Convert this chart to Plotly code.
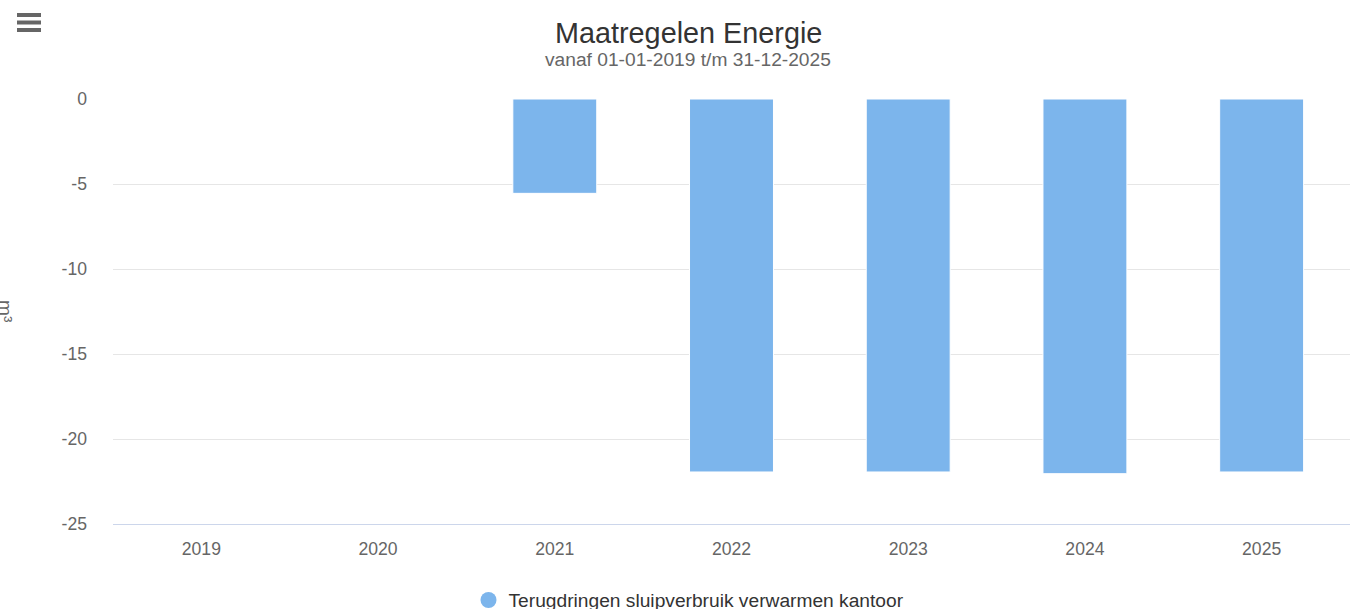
import plotly.graph_objects as go

years = ["2019", "2020", "2021", "2022", "2023", "2024", "2025"]
values = [0, 0, -5.55, -21.94, -21.94, -22.04, -21.94]
series_name = "Terugdringen sluipverbruik verwarmen kantoor"
y_ticks = [0, -5, -10, -15, -20, -25]
y_ticktext = ["0", "-5", "-10", "-15", "-20", "-25"]
title_text = "Maatregelen Energie"
subtitle_text = "vanaf 01-01-2019 t/m 31-12-2025"
y_title = "m³"

color = "#7cb5ec"
font = "Liberation Sans, Arial, sans-serif"

W, H = 1355, 609
L, R, T, B = 113, 5, 99, 85
PW, PH = W - L - R, H - T - B


def px_x(px):
    return (px - L) / PW


def px_y(py):
    return (H - B - py) / PH


fig = go.Figure()
fig.add_trace(go.Bar(
    x=years, y=values, name=series_name,
    marker=dict(color=color, line=dict(color="#ffffff", width=1)),
    showlegend=False,
))
fig.add_trace(go.Scatter(
    x=[None], y=[None], mode="markers", name=series_name,
    marker=dict(color=color, size=18, symbol="circle"),
))

fig.update_layout(
    width=W, height=H,
    margin=dict(l=L, r=R, t=T, b=B, autoexpand=False),
    plot_bgcolor="#ffffff", paper_bgcolor="#ffffff",
    bargap=0.525,
    font=dict(family=font, color="#666666", size=17.6),
    showlegend=True,
    legend=dict(orientation="h", x=689 / W, xanchor="center", xref="container",
                y=px_y(600), yref="paper", yanchor="middle",
                font=dict(size=19.2, color="#333333"),
                itemsizing="trace"),
    xaxis=dict(type="category", showgrid=False, showline=True,
               linecolor="#ccd6eb", linewidth=1, ticks="", automargin=False,
               ticklabelstandoff=9,
               tickfont=dict(size=17.6, color="#666666"), zeroline=False),
    yaxis=dict(range=[-25, 0], tickvals=y_ticks, ticktext=y_ticktext,
               showgrid=True, automargin=False,
               gridcolor="#e6e6e6", zeroline=False, showline=False,
               ticks="", ticklabelstandoff=25,
               tickfont=dict(size=17.6, color="#666666")),
    annotations=[
        dict(text=title_text, xref="paper", yref="paper", x=px_x(688), y=px_y(33),
             xanchor="center", yanchor="middle", showarrow=False,
             font=dict(size=28.8, color="#333333", family=font)),
        dict(text=subtitle_text, xref="paper", yref="paper", x=px_x(688), y=px_y(60),
             xanchor="center", yanchor="middle", showarrow=False,
             font=dict(size=19.2, color="#666666", family=font)),
        dict(text=y_title, xref="paper", yref="paper", x=px_x(6), y=px_y(311),
             xanchor="center", yanchor="middle", showarrow=False, textangle=90,
             font=dict(size=19.2, color="#666666", family=font)),
    ],
    shapes=[
        dict(type="line", xref="paper", yref="paper",
             x0=px_x(17), x1=px_x(41), y0=px_y(yy), y1=px_y(yy),
             line=dict(color="#666666", width=4))
        for yy in (15, 22.5, 30)
    ],
)

fig.write_html("out.html", config={"displayModeBar": False},
               post_script="document.body.style.margin='0';")
